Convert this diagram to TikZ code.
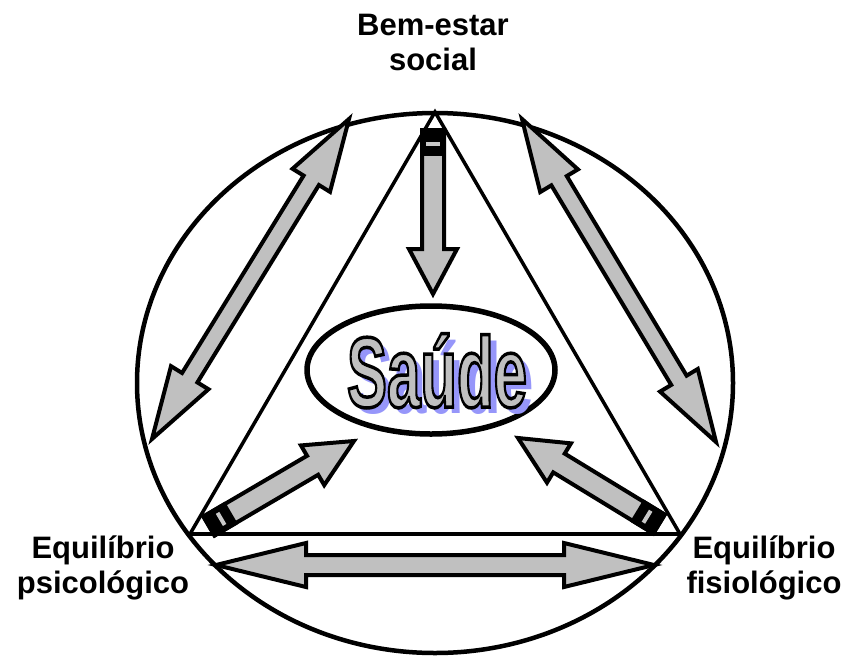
\documentclass[tikz,border=0pt]{standalone}
\usepackage{fontspec}
\setmainfont{Liberation Sans}
\usepackage{graphicx}
\usetikzlibrary{calc}
\definecolor{silverfill}{RGB}{192,192,192}
\definecolor{shadowblue}{RGB}{150,150,250}
\definecolor{stripegray}{RGB}{200,200,200}
\tikzset{
  arrowbody/.style={fill=silverfill, draw=black, line width=4pt, line join=miter},
  tailband/.style={fill=black, draw=black, line width=4pt, line join=miter},
  label/.style={font=\fontsize{31}{35}\selectfont\bfseries, align=center, inner sep=0pt},
}
% single block arrow: tail, tip, shaft half width, head half width, head length
\newcommand{\singleblock}[5]{%
  \coordinate (tmpB) at ($(#2)!#5!(#1)$);
  \draw[arrowbody] ($(#1)!#3!90:(#2)$) -- ($(tmpB)!#3!90:(#2)$) -- ($(tmpB)!#4!90:(#2)$) -- (#2)
     -- ($(tmpB)!#4!-90:(#2)$) -- ($(tmpB)!#3!-90:(#2)$) -- ($(#1)!#3!-90:(#2)$) -- cycle;
  \coordinate (tmpE) at ($(#1)!24pt!(#2)$);
  \draw[tailband] ($(#1)!#3!90:(#2)$) -- ($(tmpE)!#3!90:(#2)$) -- ($(tmpE)!#3!-90:(#2)$) -- ($(#1)!#3!-90:(#2)$) -- cycle;
  \coordinate (tmpS1) at ($(#1)!12pt!(#2)$);
  \coordinate (tmpS2) at ($(#1)!16pt!(#2)$);
  \fill[stripegray] ($(tmpS1)!7pt!90:(#2)$) -- ($(tmpS2)!7pt!90:(#2)$) -- ($(tmpS2)!7pt!-90:(#2)$) -- ($(tmpS1)!7pt!-90:(#2)$) -- cycle;
}
% double block arrow: tip A, tip B, shaft half width, head half width, head length
\newcommand{\doubleblock}[5]{%
  \coordinate (tmpA) at ($(#1)!#5!(#2)$);
  \coordinate (tmpB) at ($(#2)!#5!(#1)$);
  \draw[arrowbody] (#1) -- ($(tmpA)!#4!90:(#2)$) -- ($(tmpA)!#3!90:(#2)$) -- ($(tmpB)!#3!90:(#2)$)
     -- ($(tmpB)!#4!90:(#2)$) -- (#2) -- ($(tmpB)!#4!-90:(#2)$) -- ($(tmpB)!#3!-90:(#2)$)
     -- ($(tmpA)!#3!-90:(#2)$) -- ($(tmpA)!#4!-90:(#2)$) -- cycle;
}
\newcommand{\saudeword}{\scalebox{0.6}[1]{\fontsize{100}{100}\selectfont\bfseries Saúde}}
\newcommand{\outlinedsaude}{\special{pdf:literal direct 0 0 0 RG 2 Tr 3.5 w}\saudeword\special{pdf:literal direct 0 Tr 1 w}}
\begin{document}
\begin{tikzpicture}[x=1pt,y=-1pt]
\useasboundingbox (0,0) rectangle (854,659);
% outer circle
\draw[line width=4.5pt] (435,383) ellipse [x radius=298pt, y radius=270pt];
% triangle
\coordinate (apex) at (435,112);
\coordinate (bl) at (190,534);
\coordinate (br) at (680,534);
\draw[line width=3.5pt] (bl) -- (apex) -- (br);
\draw[line width=4pt] (bl) -- (br);
% arrows
\coordinate (dT) at (433,130);
\coordinate (dH) at (433,294);
\singleblock{dT}{dH}{11pt}{24pt}{45pt}
\coordinate (lT) at (209,526);
\coordinate (lH) at (354,441);
\singleblock{lT}{lH}{11pt}{23pt}{48pt}
\coordinate (rT) at (659,524);
\coordinate (rH) at (518,438);
\singleblock{rT}{rH}{11pt}{23pt}{48pt}
\coordinate (ulA) at (152,439);
\coordinate (ulB) at (349,119);
\doubleblock{ulA}{ulB}{9pt}{22pt}{72pt}
\coordinate (urA) at (716,442);
\coordinate (urB) at (522,119);
\doubleblock{urA}{urB}{9pt}{22pt}{72pt}
\coordinate (bA) at (216,565);
\coordinate (bB) at (654,565);
\doubleblock{bA}{bB}{10pt}{22pt}{90pt}
% central ellipse
\draw[line width=5.5pt, fill=white] (431,370) ellipse [x radius=124pt, y radius=64pt];
% Saude text with shadow and outline
\coordinate (sc) at (437,407);
\node[anchor=base, inner sep=0pt, text=shadowblue] (saudeshadow) at ($(sc)+(7,6)$) {\saudeword};
\node[anchor=base, inner sep=0pt, text=silverfill] (saude) at (sc) {\outlinedsaude};
% labels
\node[label] (social) at (433,42) {Bem-estar\\social};
\node[label] (psico) at (103,568) {Equilíbrio\\psicológico};
\node[label] (fisio) at (764,568) {Equilíbrio\\fisiológico};
\end{tikzpicture}
\end{document}
